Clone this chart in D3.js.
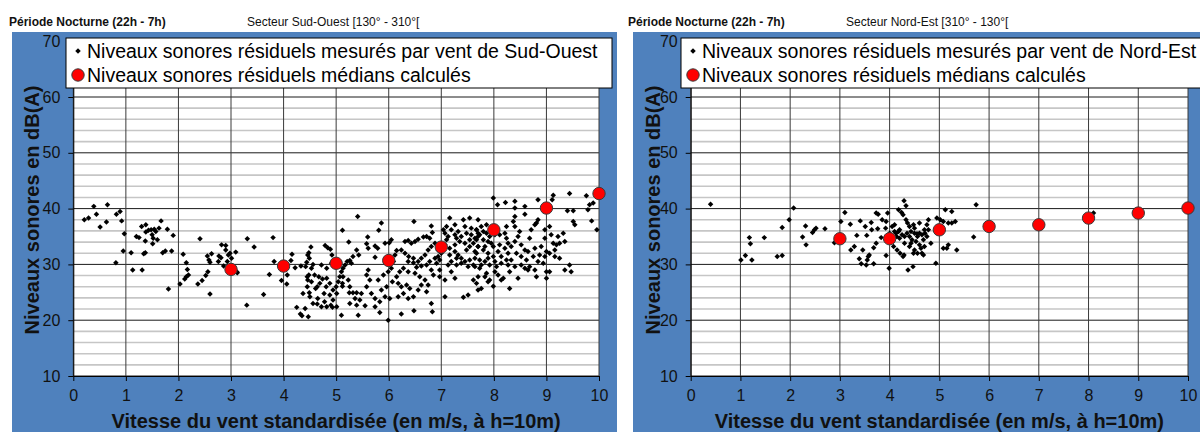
<!DOCTYPE html>
<html>
<head>
<meta charset="utf-8">
<script src="https://cdn.jsdelivr.net/npm/d3@7"></script>
<style>
  body { margin: 0; background: #fff; }
  svg { display: block; font-family: "Liberation Sans", Arial, sans-serif; }
</style>
</head>
<body>
<div id="chart"></div>
<script>
// Wind speed classes for the computed medians
var medianWind = [3, 4, 5, 6, 7, 8, 9, 10];
var medianSudOuest = [29.1, 29.7, 30.2, 30.7, 33.1, 36.2, 40.1, 42.7];
var medianNordEst = [34.6, 34.6, 36.2, 36.8, 37.1, 38.3, 39.2, 40.1];

var xTicks = [0, 1, 2, 3, 4, 5, 6, 7, 8, 9, 10];
var yTicks = [10, 20, 30, 40, 50, 60, 70];

var sudOuestPoints = [
  [0.39,40.4],[0.65,40.7],[0.21,38.0],[0.29,38.3],[0.44,39.0],[0.51,36.7],[0.63,37.6],[0.82,39.0],[0.89,39.5],[0.92,37.8],
  [0.97,35.5],[0.81,30.3],[0.95,32.4],[1.10,32.1],[1.13,29.0],[1.31,29.0],[1.30,36.8],[1.38,37.1],[1.20,35.0],[1.25,34.8],
  [1.38,35.8],[1.43,36.1],[1.48,36.2],[1.54,36.3],[1.57,35.9],[1.63,36.5],[1.67,37.8],[1.79,36.3],[1.90,35.2],[1.50,35.3],
  [1.52,34.7],[1.37,34.2],[1.51,33.7],[1.60,34.4],[1.34,31.9],[1.37,32.1],[1.70,32.1],[1.75,32.4],[1.87,32.4],[1.81,25.6],
  [2.03,26.5],[2.09,31.8],[2.15,30.3],[2.17,29.1],[2.15,27.8],[2.19,28.1],[2.12,27.4],[2.41,34.6],[2.37,26.5],[2.45,27.1],
  [2.52,28.0],[2.56,28.7],[2.60,24.7],[2.55,31.5],[2.63,31.9],[2.58,30.8],[2.60,30.4],[2.77,31.5],[2.81,31.2],[2.76,30.5],
  [2.82,33.5],[2.90,33.4],[2.90,32.6],[2.95,31.7],[2.98,32.0],[3.01,31.1],[2.93,30.5],[2.86,29.7],
  [3.09,32.2],[3.12,28.5],[3.11,28.7],[3.31,34.6],[3.44,33.1],[3.80,34.8],[3.82,30.5],[3.73,28.2],[3.62,24.6],[3.30,22.7],
  [3.96,27.1],[4.06,26.5],[4.07,28.1],[4.14,30.7],[4.16,31.8],[4.22,29.4],[4.33,29.7],[4.42,29.6],[4.44,30.4],[4.46,31.7],
  [4.48,32.1],[4.52,33.1],[4.56,30.0],[4.49,31.1],[4.72,29.9],[4.79,33.4],[4.84,33.0],[4.89,32.7],[4.92,31.7],[5.12,36.1],
  [5.24,34.0],[5.39,32.6],[5.41,38.6],[5.32,31.4],[4.45,27.8],[4.48,28.1],[4.46,27.2],[4.45,26.0],[4.49,24.9],[4.59,28.1],
  [4.67,27.8],[4.74,27.4],[4.82,27.5],[4.64,26.0],[4.61,25.7],[4.81,26.0],[4.77,24.8],[4.65,23.9],[4.50,24.2],[4.37,24.8],
  [4.64,22.9],[4.72,22.4],[4.82,22.4],[4.90,22.7],[4.93,22.3],[5.01,22.4],[4.41,22.1],[4.25,22.3],[4.32,21.1],[4.35,20.8],
  [4.47,20.6],[4.94,23.6],[5.01,24.8],[4.94,25.4],[5.00,26.0],[5.04,26.9],[5.07,27.8],[5.10,28.7],[5.13,29.3],[5.17,29.9],
  [5.21,30.5],[5.26,30.7],[5.29,30.2],[5.23,27.2],[5.26,26.0],[5.25,24.9],[5.32,24.9],[5.39,24.9],[5.36,23.9],[5.26,23.0],
  [5.39,22.7],[5.10,20.9],[5.42,20.9],[5.12,26.1],[5.12,26.6],
  [4.53,26.9],[4.69,26.6],[4.88,26.6],[4.56,23.0],[4.78,23.3],[4.88,24.5],[4.53,29.3],[4.82,29.3],[4.91,30.2],[5.13,27.8],
  [5.86,37.4],[5.81,36.1],[6.48,37.7],[6.81,36.9],[6.83,35.7],[5.60,34.9],[5.58,33.7],[5.61,32.9],[5.74,33.3],[5.79,32.9],
  [5.93,33.8],[6.01,33.9],[6.05,34.4],[5.43,31.7],[5.74,31.3],[6.15,32.5],[6.12,31.7],[6.09,30.5],[6.31,34.1],[6.37,34.3],
  [6.43,33.8],[6.50,34.1],[6.56,34.5],[6.66,34.9],[6.72,35.0],[6.78,34.7],[6.24,32.6],[6.31,32.0],[6.38,31.4],[6.47,31.1],
  [6.37,30.5],[6.47,30.3],[6.56,30.5],[6.62,31.1],[6.69,31.7],[6.75,32.6],[6.81,33.2],[6.88,33.8],[6.53,29.5],[6.62,29.7],
  [6.72,29.9],[6.78,30.5],[6.88,31.1],[6.94,31.4],[6.91,30.2],[6.97,30.8],[7.04,36.2],[7.10,36.8],[7.16,38.3],[7.26,37.1],
  [7.42,38.0],[7.54,38.3],[7.57,36.5],[7.67,36.2],[7.13,35.0],[7.26,35.3],[7.07,33.5],[7.16,32.9],[7.26,32.3],[7.32,31.7],
  [7.38,31.1],[7.48,32.6],[7.54,33.2],[7.61,33.8],[7.67,34.4],[7.45,30.5],[7.54,30.8],[7.64,31.1],[7.19,30.5],[7.29,29.9],
  [7.19,28.7],[7.26,27.5],[7.07,24.2],[7.42,24.1],[7.51,24.5],[7.61,27.2],[7.67,26.6],[6.81,23.0],[6.83,21.5],[5.55,22.6],
  [5.74,22.4],[5.83,21.4],[5.99,20.0],[6.24,21.1],[6.48,21.7],[5.67,24.8],[5.74,23.9],[5.83,23.3],[5.93,24.2],[6.02,23.9],
  [5.86,25.4],[5.96,26.0],[5.80,27.2],[5.90,28.1],[5.61,29.0],[5.58,28.1],[5.64,27.2],[5.58,26.0],[5.48,24.8],[5.45,23.6],
  [6.15,27.8],[6.18,26.6],[6.24,26.0],[6.34,26.3],[6.40,25.7],[6.28,24.8],[6.18,24.2],[6.37,23.9],[6.47,24.2],[6.56,25.4],
  [6.62,26.3],[6.69,27.2],[6.59,27.8],[6.50,28.4],[6.37,28.7],[6.28,29.3],[6.21,28.7],[6.05,29.3],[5.99,28.7],[6.07,26.9],
  [6.72,25.1],[6.75,26.3],[6.85,28.1],[6.97,27.8],[7.07,27.2],[6.97,29.0],[6.81,29.0],
  [7.07,35.6],[7.19,36.2],[7.32,35.9],[7.38,35.0],[7.48,35.6],[7.57,35.3],[7.64,34.7],[7.70,35.6],[7.35,34.1],[7.45,33.8],
  [7.26,33.5],[7.16,31.7],[7.29,31.1],[7.38,30.2],[7.51,29.6],[7.61,29.9],[7.64,32.3],[7.70,33.2],[7.13,29.9],[6.94,32.6],
  [7.00,32.0],[7.04,33.2],[7.10,34.4],[7.45,36.8],[7.29,34.7],[7.54,34.4],
  [7.99,41.9],[8.07,40.7],[8.22,41.1],[8.40,41.3],[8.40,40.1],[8.59,40.4],[8.59,39.0],[8.84,41.6],[9.13,42.4],[9.11,41.6],
  [9.44,42.7],[9.40,39.6],[9.51,39.6],[9.76,42.3],[9.82,40.7],[9.89,41.0],[9.79,39.8],[9.86,37.8],[9.96,36.2],[9.51,37.7],
  [9.54,37.1],[9.32,35.6],[9.35,34.1],[9.25,33.8],[9.19,33.5],[9.16,32.6],[9.06,32.0],[9.16,31.4],[9.00,32.3],[8.97,31.4],
  [8.94,30.2],[9.00,28.7],[9.06,28.7],[9.00,27.5],[8.81,27.8],[8.65,29.0],[8.59,29.3],[8.46,27.5],[8.30,25.7],[8.18,27.5],
  [8.02,28.7],[7.99,26.1],[7.89,26.9],[7.76,25.7],[7.70,25.4],[7.73,29.3],[7.86,28.4],[8.08,28.1],[8.27,29.9],[8.33,30.8],
  [8.43,32.0],[8.52,31.4],[8.62,30.8],[8.75,31.4],[8.84,30.5],[8.87,31.7],[8.78,32.9],[8.68,34.7],[8.71,36.2],[8.81,37.4],
  [8.84,38.0],[8.78,37.1],[8.97,34.7],[9.09,35.3],[9.22,35.0],[8.40,38.6],[8.37,37.7],[8.40,36.8],[8.24,36.8],[8.21,35.6],
  [8.24,34.7],[8.27,33.8],[8.21,32.9],[8.40,34.1],[8.46,35.0],[8.49,35.9],[8.52,33.5],[8.59,32.6],[8.11,35.3],[8.11,33.5],
  [8.08,32.3],[8.14,31.4],[8.24,30.8],[7.99,31.4],[7.89,32.0],[7.83,33.2],[7.80,34.4],[7.73,35.3],[7.67,36.2],[7.76,36.8],
  [7.86,35.6],[7.89,34.1],[7.99,33.2],[7.70,33.2],[7.67,32.0],[7.73,30.8],[7.83,30.5],[7.92,29.9],[7.64,29.6],
  [7.70,38.0],[7.70,35.0],[7.80,35.9],[7.86,37.1],[7.92,35.0],[7.95,33.8],[8.02,35.3],[8.05,36.5],[7.80,32.6],[7.89,31.1],
  [7.76,29.9],[8.02,30.5],[8.14,30.2],[8.05,29.6],[8.27,32.0],[8.33,33.2],[7.83,27.8],[7.92,27.2],[7.70,27.8],[8.14,27.2],
  [8.30,28.7],[8.40,29.6],[8.52,29.9],[8.68,29.6],[8.78,29.0],[8.65,32.3],[8.90,33.2],[8.97,36.2],[9.06,36.8],[9.13,33.8],
  [9.25,31.1],[9.35,29.0],[9.47,28.7],[9.44,29.9]
];

var nordEstPoints = [
  [0.40,40.8],[1.01,30.8],[1.10,31.6],[1.23,30.8],[1.18,34.8],[1.20,33.7],[1.48,34.8],[1.74,31.4],[1.84,31.6],[1.84,36.6],
  [1.98,38.0],[2.07,40.1],[2.25,34.9],[2.32,33.5],[2.31,36.9],[2.45,35.7],[2.49,36.2],[2.52,36.5],[2.70,36.4],[2.89,33.9],
  [3.02,37.7],[3.10,39.3],[3.21,37.2],[3.34,35.2],[3.29,33.2],[3.22,32.6],[3.41,37.8],[3.46,32.6],[3.51,36.8],[3.54,35.2],
  [3.63,37.5],[3.64,36.2],[3.57,31.4],[3.59,31.7],[3.55,30.8],[3.39,31.0],[3.43,30.1],[3.53,29.9],[3.68,30.1],[3.68,33.0],
  [3.73,33.8],[3.73,39.2],[3.77,39.0],[3.76,36.4],[3.83,34.8],[3.93,31.6],[3.92,36.5],[3.93,37.7],[3.96,39.2],[3.99,29.3],
  [4.29,41.4],[4.33,40.5],[4.18,39.8],[4.24,39.3],[4.27,38.9],[4.33,38.0],[4.36,37.4],[4.40,36.8],[4.43,35.9],[4.50,35.6],
  [4.56,35.0],[4.14,35.0],[4.18,35.9],[4.10,37.1],[4.13,35.6],[4.02,34.1],[4.08,33.2],[4.15,32.6],[4.21,32.0],[4.29,31.7],
  [4.27,31.4],[4.37,29.0],[4.47,29.6],[4.43,33.8],[4.50,32.6],[4.53,34.1],[4.56,32.0],
  [4.78,38.0],[4.75,37.1],[4.78,36.2],[4.71,35.6],[4.65,35.3],[4.68,34.4],[4.63,32.9],[4.65,32.0],[4.68,31.7],[4.83,33.8],
  [4.95,38.3],[4.93,30.2],[5.02,38.0],[5.05,36.8],[5.08,37.7],[5.12,39.8],[5.25,39.5],[5.18,37.4],[5.25,37.4],[5.32,37.7],
  [5.18,33.5],[5.08,32.9],[5.15,32.9],[5.35,32.6],[5.69,34.9],[5.74,40.7],[8.10,39.2],
  [4.48,37.1],[4.55,35.5],[4.48,32.0],
  [4.00,35.6],[4.10,35.9],[4.20,36.2],[4.25,35.3],[4.30,35.0],[4.35,35.6],[4.40,35.0],[4.45,34.4],[4.60,35.6],[4.70,36.2],
  [4.75,35.0],[4.20,34.7],[4.30,33.8],[4.40,33.2],[4.60,33.5],[4.50,36.5],[4.05,36.8],[3.85,38.0],[4.60,37.4],[4.70,33.2]
];

// SVG area
var svgWidth = 1200;
var svgHeight = 432;

var svg = d3.select("#chart")
  .append("svg")
  .attr("width", svgWidth)
  .attr("height", svgHeight);

svg.append("rect")
  .attr("width", svgWidth)
  .attr("height", svgHeight)
  .attr("fill", "white");

var frameBlue = "#4f81bd";

// One panel = blue frame + plot area + legend + titles
function drawPanel(p) {

  svg.append("rect")
    .attr("x", p.frameX)
    .attr("y", 32)
    .attr("width", p.frameW)
    .attr("height", svgHeight - 32)
    .attr("fill", frameBlue);

  var xScale = d3.scaleLinear()
    .domain([0, 10])
    .range([p.left, p.right]);

  var yScale = d3.scaleLinear()
    .domain([10, 70])
    .range([376, 41.2]);

  var g = svg.append("g");

  g.append("rect")
    .attr("x", p.left)
    .attr("y", yScale(70))
    .attr("width", p.right - p.left)
    .attr("height", yScale(10) - yScale(70))
    .attr("fill", "white");

  // minor horizontal grid, every 2 dB
  var minor = d3.range(12, 70, 2).filter(d => d % 10 !== 0);
  g.selectAll(".minor")
    .data(minor)
    .enter()
    .append("line")
    .attr("x1", p.left)
    .attr("x2", p.right)
    .attr("y1", d => yScale(d))
    .attr("y2", d => yScale(d))
    .attr("stroke", "#c6c6c6")
    .attr("stroke-width", 1.6);

  // major grid
  g.selectAll(".hmajor")
    .data(yTicks)
    .enter()
    .append("line")
    .attr("x1", p.left)
    .attr("x2", p.right)
    .attr("y1", d => yScale(d))
    .attr("y2", d => yScale(d))
    .attr("stroke", "#1a1a1a")
    .attr("stroke-width", 1);

  g.selectAll(".vmajor")
    .data(xTicks)
    .enter()
    .append("line")
    .attr("x1", d => xScale(d))
    .attr("x2", d => xScale(d))
    .attr("y1", yScale(70))
    .attr("y2", yScale(10))
    .attr("stroke", "#3a3a3a")
    .attr("stroke-width", 1);

  // axes
  var leftAxis = d3.axisLeft(yScale)
    .tickValues(yTicks)
    .tickSize(5)
    .tickSizeOuter(0)
    .tickPadding(8);

  var bottomAxis = d3.axisBottom(xScale)
    .tickValues(xTicks)
    .tickSize(5)
    .tickSizeOuter(0)
    .tickPadding(9);

  var yAxis = g.append("g")
    .attr("transform", `translate(${p.left}, 0)`)
    .call(leftAxis);

  var xAxis = g.append("g")
    .attr("transform", `translate(0, ${yScale(10)})`)
    .call(bottomAxis);

  [xAxis, yAxis].forEach(function(ax) {
    ax.selectAll("text")
      .attr("font-size", 16)
      .attr("font-family", "Liberation Sans, Arial, sans-serif")
      .attr("fill", "#111");
    ax.selectAll("line, path").attr("stroke", "#000");
  });

  // axis titles
  g.append("text")
    .attr("transform", "rotate(-90)")
    .attr("x", -210)
    .attr("y", p.frameX + 27)
    .attr("text-anchor", "middle")
    .attr("font-size", 20)
    .attr("font-weight", "bold")
    .attr("fill", "#111")
    .text("Niveaux sonores en dB(A)");

  g.append("text")
    .attr("x", (p.left + p.right) / 2)
    .attr("y", 428)
    .attr("text-anchor", "middle")
    .attr("font-size", 20)
    .attr("font-weight", "bold")
    .attr("fill", "#111")
    .text("Vitesse du vent standardisée (en m/s, à h=10m)");

  // measured points
  var diamond = d3.symbol().type(d3.symbolSquare).size(15);

  g.selectAll(".pt")
    .data(p.points)
    .enter()
    .append("path")
    .attr("d", diamond)
    .attr("transform", d => `translate(${xScale(d[0])}, ${yScale(d[1])}) rotate(45)`)
    .attr("fill", "#000");

  // medians
  g.selectAll(".med")
    .data(medianWind)
    .enter()
    .append("circle")
    .attr("cx", d => xScale(d))
    .attr("cy", (d, i) => yScale(p.medians[i]))
    .attr("r", 6.2)
    .attr("fill", "#ff0000")
    .attr("stroke", "#3a3a3a")
    .attr("stroke-width", 1);

  // legend
  var legend = svg.append("g");

  legend.append("rect")
    .attr("x", p.legendX)
    .attr("y", 38)
    .attr("width", p.legendW)
    .attr("height", 50)
    .attr("fill", "white")
    .attr("stroke", "#000")
    .attr("stroke-width", 1);

  legend.append("path")
    .attr("d", diamond)
    .attr("transform", `translate(${p.legendX + 12}, 51) rotate(45)`)
    .attr("fill", "#000");

  legend.append("text")
    .attr("x", p.legendX + 21)
    .attr("y", 57.5)
    .attr("font-size", 19.5)
    .attr("fill", "#000")
    .text(p.legendText);

  legend.append("circle")
    .attr("cx", p.legendX + 12)
    .attr("cy", 75)
    .attr("r", 6.2)
    .attr("fill", "#ff0000")
    .attr("stroke", "#3a3a3a")
    .attr("stroke-width", 1);

  legend.append("text")
    .attr("x", p.legendX + 21)
    .attr("y", 82)
    .attr("font-size", 19.5)
    .attr("fill", "#000")
    .text("Niveaux sonores résiduels médians calculés");

  // titles above the frame
  svg.append("text")
    .attr("x", p.titleX)
    .attr("y", 26)
    .attr("font-size", 12)
    .attr("font-weight", "bold")
    .attr("fill", "#111")
    .text("Période Nocturne (22h - 7h)");

  svg.append("text")
    .attr("x", p.sectorX)
    .attr("y", 26)
    .attr("font-size", 12)
    .attr("fill", "#111")
    .text(p.sector);
}

drawPanel({
  frameX: 12, frameW: 605,
  left: 73.3, right: 599,
  legendX: 66, legendW: 546,
  titleX: 9, sectorX: 247,
  points: sudOuestPoints,
  medians: medianSudOuest,
  legendText: "Niveaux sonores résiduels mesurés par vent de Sud-Ouest",
  sector: "Secteur Sud-Ouest [130° - 310°["
});

drawPanel({
  frameX: 633, frameW: 600,
  left: 690.7, right: 1188,
  legendX: 681, legendW: 600,
  titleX: 628, sectorX: 846,
  points: nordEstPoints,
  medians: medianNordEst,
  legendText: "Niveaux sonores résiduels mesurés par vent de Nord-Est",
  sector: "Secteur Nord-Est [310° - 130°["
});
</script>
</body>
</html>
